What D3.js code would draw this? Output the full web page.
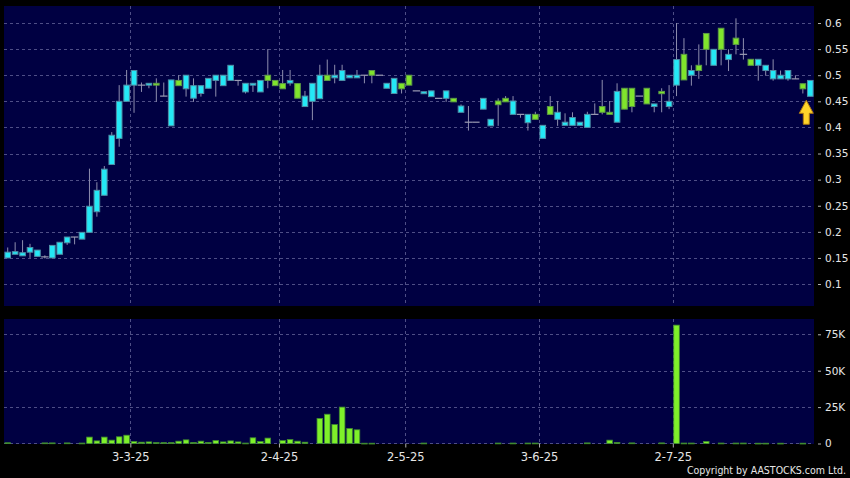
<!DOCTYPE html>
<html>
<head>
<meta charset="utf-8">
<script src="https://cdn.jsdelivr.net/npm/d3@7"></script>
<style>
  html, body { margin: 0; padding: 0; background: #000; }
  svg { display: block; }
</style>
</head>
<body>
<div id="chart"></div>
<script>
// ---------------- DATA ----------------
const openV = [
  0.150,0.157,0.154,0.161,0.153,0.152,0.150,0.157,0.179,0.190,
  0.186,0.199,0.2385,0.270,0.329,0.379,0.450,0.481,0.481,0.481,
  0.4845,0.460,0.403,0.490,0.474,0.456,0.465,0.475,0.490,0.480,
  0.490,0.490,0.468,0.481,0.468,0.500,0.490,0.484,0.485,0.484,
  0.440,0.450,0.455,0.500,0.495,0.490,0.495,0.495,0.500,0.509,
  0.500,0.475,0.465,0.4845,0.500,0.470,0.4646,0.459,0.4557,0.4557,
  0.4557,0.429,0.410,0.410,0.435,0.403,0.4506,0.4557,0.425,0.425,
  0.409,0.425,0.379,0.440,0.4155,0.404,0.404,0.404,0.400,0.425,
  0.440,0.429,0.410,0.475,0.475,0.460,0.475,0.440,0.469,0.440,
  0.481,0.540,0.500,0.519,0.580,0.519,0.590,0.530,0.571,0.540,
  0.5305,0.519,0.509,0.493,0.493,0.493,0.493,0.4837,0.4596
];
const highV = [
  0.170,0.180,0.184,0.177,0.165,0.155,0.174,0.180,0.190,0.190,
  0.199,0.321,0.295,0.326,0.391,0.481,0.510,0.509,0.486,0.4845,
  0.494,0.486,0.491,0.500,0.500,0.494,0.480,0.494,0.500,0.500,
  0.519,0.490,0.4845,0.4845,0.490,0.550,0.490,0.510,0.510,0.484,
  0.470,0.4845,0.520,0.530,0.520,0.520,0.500,0.510,0.500,0.509,
  0.500,0.4845,0.494,0.4845,0.500,0.470,0.4684,0.470,0.4557,0.470,
  0.4557,0.444,0.441,0.410,0.4557,0.4155,0.4557,0.460,0.460,0.425,
  0.425,0.430,0.404,0.460,0.4506,0.427,0.429,0.410,0.430,0.446,
  0.491,0.4506,0.4845,0.475,0.475,0.460,0.475,0.445,0.475,0.481,
  0.600,0.571,0.519,0.559,0.580,0.5496,0.590,0.5496,0.609,0.571,
  0.5305,0.5305,0.519,0.5305,0.509,0.509,0.4998,0.4837,0.490
];
const lowV = [
  0.150,0.157,0.154,0.150,0.153,0.149,0.150,0.157,0.175,0.176,
  0.186,0.199,0.229,0.270,0.329,0.363,0.450,0.428,0.468,0.475,
  0.449,0.460,0.403,0.480,0.459,0.449,0.459,0.475,0.459,0.480,
  0.490,0.480,0.465,0.468,0.468,0.475,0.480,0.474,0.480,0.456,
  0.440,0.414,0.455,0.490,0.4845,0.490,0.495,0.495,0.4845,0.4845,
  0.500,0.475,0.465,0.465,0.481,0.470,0.4646,0.459,0.4557,0.449,
  0.449,0.429,0.394,0.410,0.435,0.403,0.403,0.449,0.425,0.4186,
  0.394,0.4155,0.379,0.425,0.403,0.404,0.404,0.404,0.400,0.425,
  0.425,0.425,0.410,0.435,0.429,0.460,0.445,0.429,0.429,0.435,
  0.460,0.491,0.480,0.493,0.519,0.519,0.519,0.508,0.540,0.530,
  0.519,0.4895,0.499,0.4895,0.493,0.4895,0.493,0.465,0.4596
];
const closeV = [
  0.161,0.162,0.160,0.170,0.165,0.152,0.174,0.180,0.190,0.190,
  0.199,0.249,0.2795,0.320,0.385,0.450,0.481,0.509,0.481,0.4845,
  0.481,0.460,0.491,0.480,0.500,0.480,0.480,0.494,0.500,0.500,
  0.519,0.490,0.4845,0.4845,0.490,0.490,0.480,0.474,0.490,0.456,
  0.460,0.4845,0.500,0.490,0.500,0.509,0.500,0.500,0.500,0.500,
  0.500,0.4845,0.494,0.474,0.481,0.470,0.4684,0.470,0.4557,0.470,
  0.449,0.441,0.410,0.410,0.4557,0.4155,0.4435,0.449,0.4506,0.425,
  0.425,0.4155,0.404,0.425,0.429,0.410,0.419,0.410,0.425,0.425,
  0.429,0.425,0.469,0.435,0.440,0.460,0.445,0.445,0.4646,0.450,
  0.530,0.491,0.509,0.509,0.5496,0.5496,0.5496,0.540,0.559,0.540,
  0.519,0.5305,0.519,0.509,0.500,0.509,0.493,0.474,0.490
];
const volumeV = [
  500,0,0,0,0,400,400,0,400,0,
  300,4400,1800,4400,2300,4600,5700,1400,900,1100,
  600,600,600,1600,2500,700,1600,700,2000,1100,
  1800,1100,300,3900,1400,3700,0,2000,2700,1600,
  900,0,17200,20100,13000,25000,10300,9400,200,200,
  0,0,0,0,0,0,300,0,0,0,
  0,0,0,0,0,0,300,0,300,0,
  300,300,0,0,0,0,0,0,400,0,
  0,2300,700,0,400,0,0,0,400,0,
  81300,300,300,0,1400,0,300,0,300,300,
  0,200,200,0,200,0,0,200,0
];
const dateTickIdx = [17, 37, 54, 72, 90];
const dateTickLabels = ["3-3-25", "2-4-25", "2-5-25", "3-6-25", "2-7-25"];
const priceTicks = [0.1, 0.15, 0.2, 0.25, 0.3, 0.35, 0.4, 0.45, 0.5, 0.55, 0.6];
const priceTickLabels = ["0.1","0.15","0.2","0.25","0.3","0.35","0.4","0.45","0.5","0.55","0.6"];
const volTicks = [0, 25000, 50000, 75000];
const volTickLabels = ["0", "25K", "50K", "75K"];

// ---------------- LAYOUT ----------------
const W = 850, H = 478;
const L = 4, R = 814;
const pTop = 6, pBot = 306;
const vTop = 319, vBot = 443.5;

const C = {
  bg: "#000000", plot: "#000042", grid: "#4e4e86",
  upFill: "#24e8f6", upStroke: "#4f8ea6",
  dnFill: "#80e42c", dnStroke: "#5c9a46",
  wick: "#8e8eae", dash: "#9c9cb4",
  text: "#e6e6e6", tick: "#b0b0b0",
  volFill: "#7ff02a", volStroke: "#3f8a30"
};

const svg = d3.select("#chart").append("svg")
  .attr("width", W).attr("height", H)
  .style("background", C.bg);

const n = openV.length;
const x = d3.scaleBand().domain(d3.range(n)).range([L, R]).paddingInner(0).paddingOuter(0);
const cx = i => x(i) + x.bandwidth() / 2;
const yP = d3.scaleLinear().domain([0.0579, 0.6326]).range([pBot, pTop]);
const yV = d3.scaleLinear().domain([0, 85500]).range([vBot, vTop]);

// plot backgrounds
svg.append("rect").attr("x", L).attr("y", pTop).attr("width", R - L).attr("height", pBot - pTop).attr("fill", C.plot);
svg.append("rect").attr("x", L).attr("y", vTop).attr("width", R - L).attr("height", vBot - vTop + 0.5).attr("fill", C.plot);

// grids
const gGrid = svg.append("g").attr("stroke", C.grid).attr("stroke-width", 1).attr("stroke-dasharray", "3,3");
priceTicks.forEach(v => {
  const yy = Math.round(yP(v)) + 0.5;
  gGrid.append("line").attr("x1", L).attr("x2", R).attr("y1", yy).attr("y2", yy);
});
volTicks.forEach(v => {
  if (v === 0) return;
  const yy = Math.round(yV(v)) + 0.5;
  gGrid.append("line").attr("x1", L).attr("x2", R).attr("y1", yy).attr("y2", yy);
});
dateTickIdx.forEach(i => {
  const xx = Math.round(x(i)) + 0.5;
  gGrid.append("line").attr("x1", xx).attr("x2", xx).attr("y1", pTop).attr("y2", pBot);
  gGrid.append("line").attr("x1", xx).attr("x2", xx).attr("y1", vTop).attr("y2", vBot);
});
{
  const yy = Math.round(yV(0)) - 0.5;
  gGrid.append("line").attr("x1", L).attr("x2", R).attr("y1", yy).attr("y2", yy);
}

// candles
const bodyW = 5.6;
const gC = svg.append("g");
d3.range(n).forEach(i => {
  const o = openV[i], h = highV[i], l = lowV[i], c = closeV[i];
  const xc = cx(i);
  if (h > l) {
    gC.append("line").attr("x1", xc).attr("x2", xc)
      .attr("y1", yP(h)).attr("y2", yP(l))
      .attr("stroke", C.wick).attr("stroke-width", 1);
  }
  if (o === c) {
    gC.append("line").attr("x1", x(i)).attr("x2", x(i) + x.bandwidth())
      .attr("y1", yP(o)).attr("y2", yP(o))
      .attr("stroke", C.dash).attr("stroke-width", 1.2);
  } else {
    const up = c > o;
    const y0 = yP(Math.max(o, c)), y1 = yP(Math.min(o, c));
    const hh = Math.max(y1 - y0, 1.5);
    gC.append("rect").attr("x", xc - bodyW / 2).attr("y", y0)
      .attr("width", bodyW).attr("height", hh)
      .attr("fill", up ? C.upFill : C.dnFill)
      .attr("stroke", up ? C.upStroke : C.dnStroke).attr("stroke-width", 1);
  }
});

// current-price arrow
{
  const last = n - 1;
  const ax = cx(last) - 4;
  const tip = yP(lowV[last]) + 4;
  const p = `M${ax},${tip} L${ax + 7},${tip + 13} L${ax + 3},${tip + 13} L${ax + 3},${tip + 24} L${ax - 3},${tip + 24} L${ax - 3},${tip + 13} L${ax - 7},${tip + 13} Z`;
  svg.append("path").attr("d", p).attr("fill", "#ffd42a").attr("stroke", "#b07a10").attr("stroke-width", 1);
}

// volume bars
const gV = svg.append("g");
d3.range(n).forEach(i => {
  const v = volumeV[i];
  if (v <= 0) return;
  const y0 = yV(v);
  gV.append("rect").attr("x", cx(i) - bodyW / 2).attr("y", y0)
    .attr("width", bodyW).attr("height", Math.max(vBot - y0, 0.8))
    .attr("fill", C.volFill).attr("stroke", C.volStroke).attr("stroke-width", 0.8);
});

// axes
const fontFam = "'DejaVu Sans', Verdana, sans-serif";
const axP = d3.axisRight(yP).tickValues(priceTicks).tickSize(3).tickPadding(4)
  .tickFormat((d, k) => priceTickLabels[k]);
const gAP = svg.append("g").attr("transform", `translate(${R + 4},0)`).call(axP);
const axV = d3.axisRight(yV).tickValues(volTicks).tickSize(3).tickPadding(4)
  .tickFormat((d, k) => volTickLabels[k]);
const gAV = svg.append("g").attr("transform", `translate(${R + 4},0)`).call(axV);
const xTickScale = d3.scaleOrdinal().domain(dateTickIdx).range(dateTickIdx.map(i => x(i)));
const axX = d3.axisBottom(xTickScale).tickValues(dateTickIdx).tickSize(4).tickPadding(5)
  .tickFormat((d, k) => dateTickLabels[k]);
const gAX = svg.append("g").attr("transform", `translate(0,${vBot})`).call(axX);

[gAP, gAV].forEach(g => {
  g.select(".domain").remove();
  g.selectAll(".tick line").attr("stroke", C.tick);
  g.selectAll(".tick text").attr("fill", C.text).style("font-family", fontFam).style("font-size", "10.5px");
});
gAX.select(".domain").remove();
gAX.selectAll(".tick line").attr("stroke", C.tick);
gAX.selectAll(".tick text").attr("fill", C.text).style("font-family", fontFam).style("font-size", "11.5px");

// copyright
svg.append("text").attr("x", 846).attr("y", 473.5).attr("text-anchor", "end")
  .attr("fill", C.text)
  .style("font-family", "'DejaVu Sans Condensed', 'DejaVu Sans', sans-serif")
  .style("font-stretch", "condensed")
  .style("font-size", "10.5px")
  .text("Copyright by AASTOCKS.com Ltd.");
</script>
</body>
</html>
